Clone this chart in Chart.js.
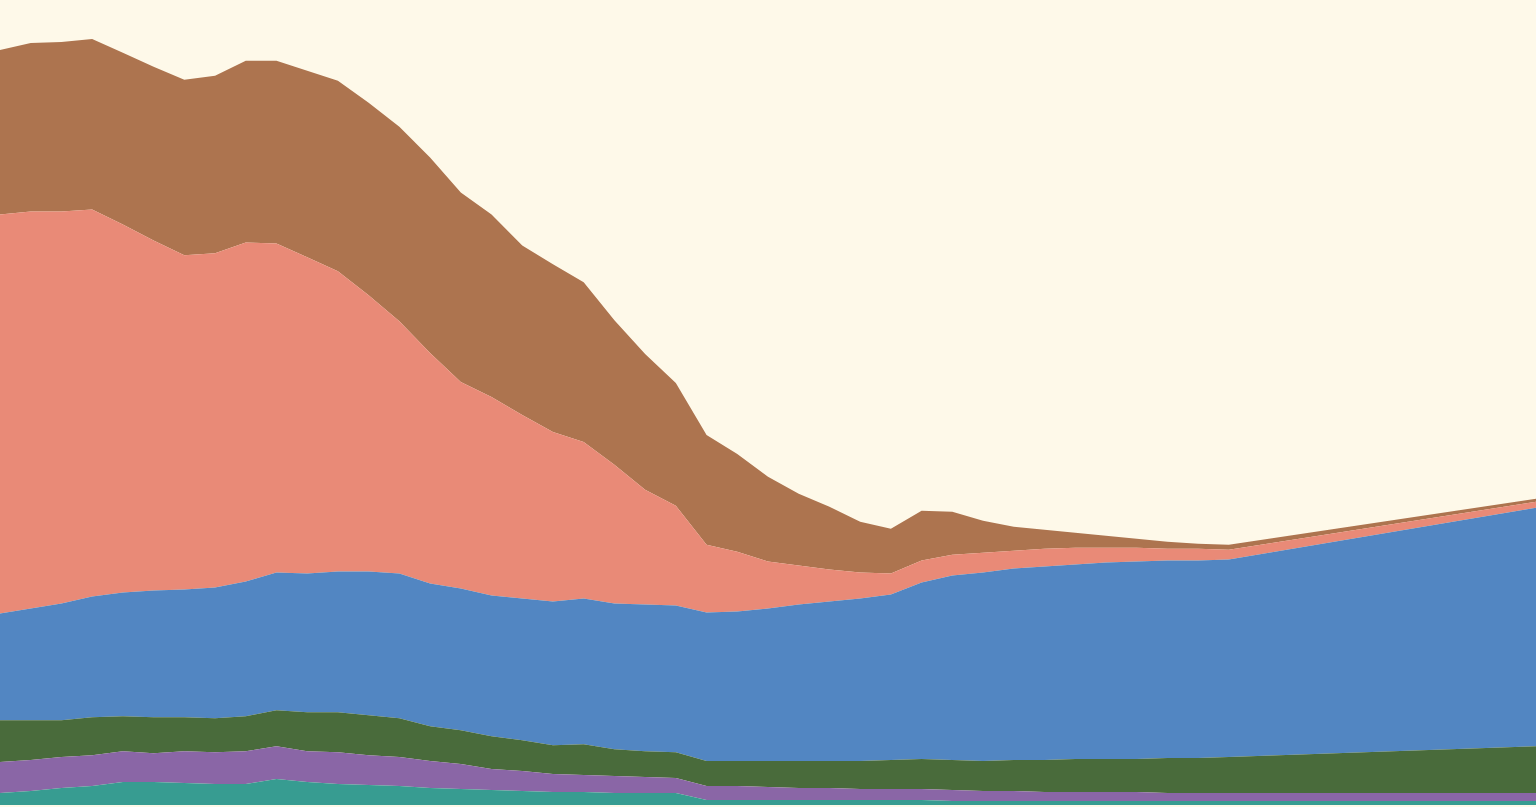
<!DOCTYPE html>
<html>
<head>
<meta charset="utf-8">
<script src="https://cdn.jsdelivr.net/npm/chart.js@4/dist/chart.umd.min.js"></script>
<style>
  html, body { margin: 0; padding: 0; background: #fef9e9; overflow: hidden; }
  #wrap { position: relative; width: 1536px; height: 807px; }
</style>
</head>
<body>
<div id="wrap"><canvas id="chart"></canvas></div>
<script>
// years with a data point (yearly to 2030, then one step to 2040)
const years = [1990, 1991, 1992, 1993, 1994, 1995, 1996, 1997, 1998, 1999,
               2000, 2001, 2002, 2003, 2004, 2005, 2006, 2007, 2008, 2009,
               2010, 2011, 2012, 2013, 2014, 2015, 2016, 2017, 2018, 2019,
               2020, 2021, 2022, 2023, 2024, 2025, 2026, 2027, 2028, 2029,
               2030, 2040];

// stacked from the bottom up
const teal   = [12, 14, 17, 19, 23, 23, 22, 21, 21, 26, 23, 21, 20, 19, 17, 16, 15, 14, 13, 13,
                12, 12, 12, 5, 5, 5, 5, 5, 5, 5, 5, 4, 4, 4, 4, 4, 4, 4, 4, 4, 4, 4];
const purple = [31, 31, 31, 31, 31, 29, 32, 32, 33, 33, 31, 32, 30, 29, 27, 25, 21, 20, 18, 17,
                17, 16, 15, 14, 14, 13, 12, 12, 11, 11, 11, 11, 10, 10, 9, 9, 9, 9, 8, 8, 8, 8];
const green  = [42, 40, 37, 38, 35, 36, 34, 34, 35, 36, 39, 40, 40, 39, 35, 34, 33, 31, 29, 31,
                27, 26, 26, 25, 25, 26, 27, 27, 28, 29, 30, 30, 30, 31, 32, 33, 33, 33, 35, 35, 36, 47];
const blue   = [107, 112, 117, 121, 124, 127, 128, 131, 135, 138, 139, 141, 144, 145, 143, 142, 141, 142, 144, 146,
                146, 147, 147, 149, 150, 153, 157, 160, 163, 166, 177, 185, 189, 192, 194, 195, 197, 198, 198, 198, 198, 239];
const salmon = [400, 398, 393, 388, 369, 351, 335, 335, 340, 330, 317, 301, 277, 253, 231, 207, 199, 184, 170, 157,
                139, 115, 100, 68, 60, 47, 39, 32, 26, 21, 22, 21, 20, 18, 18, 17, 15, 14, 12, 12, 10, 6];
const brown  = [165, 169, 170, 171, 172, 174, 176, 178, 182, 183, 187, 191, 193, 195, 196, 190, 183, 170, 168, 160,
                145, 136, 123, 110, 98, 85, 72, 63, 51, 45, 50, 43, 32, 24, 19, 15, 12, 9, 7, 5, 5, 3];

const layers = [
  { label: 'Teal',   data: teal,   color: '#379c91' },
  { label: 'Purple', data: purple, color: '#8a66a6' },
  { label: 'Green',  data: green,  color: '#496b3b' },
  { label: 'Blue',   data: blue,   color: '#5286c2' },
  { label: 'Salmon', data: salmon, color: '#e98a77' },
  { label: 'Brown',  data: brown,  color: '#ad744f' }
];

new Chart(document.getElementById('chart'), {
  type: 'line',
  data: {
    datasets: layers.map((l, i) => ({
      label: l.label,
      data: l.data.map((v, j) => ({ x: years[j], y: v })),
      backgroundColor: l.color,
      borderColor: l.color,
      borderWidth: 0,
      pointRadius: 0,
      tension: 0,
      fill: i === 0 ? 'origin' : '-1'
    }))
  },
  options: {
    responsive: true, maintainAspectRatio: false, animation: false,
    layout: { padding: 0 },
    plugins: { legend: { display: false }, tooltip: { enabled: false } },
    scales: {
      x: { type: 'linear', min: 1990, max: 2040, display: false },
      // small gap under the baseline, like the reference's thin light strip
      y: { stacked: true, min: -2, max: 807, display: false }
    }
  }
});
</script>
</body>
</html>
